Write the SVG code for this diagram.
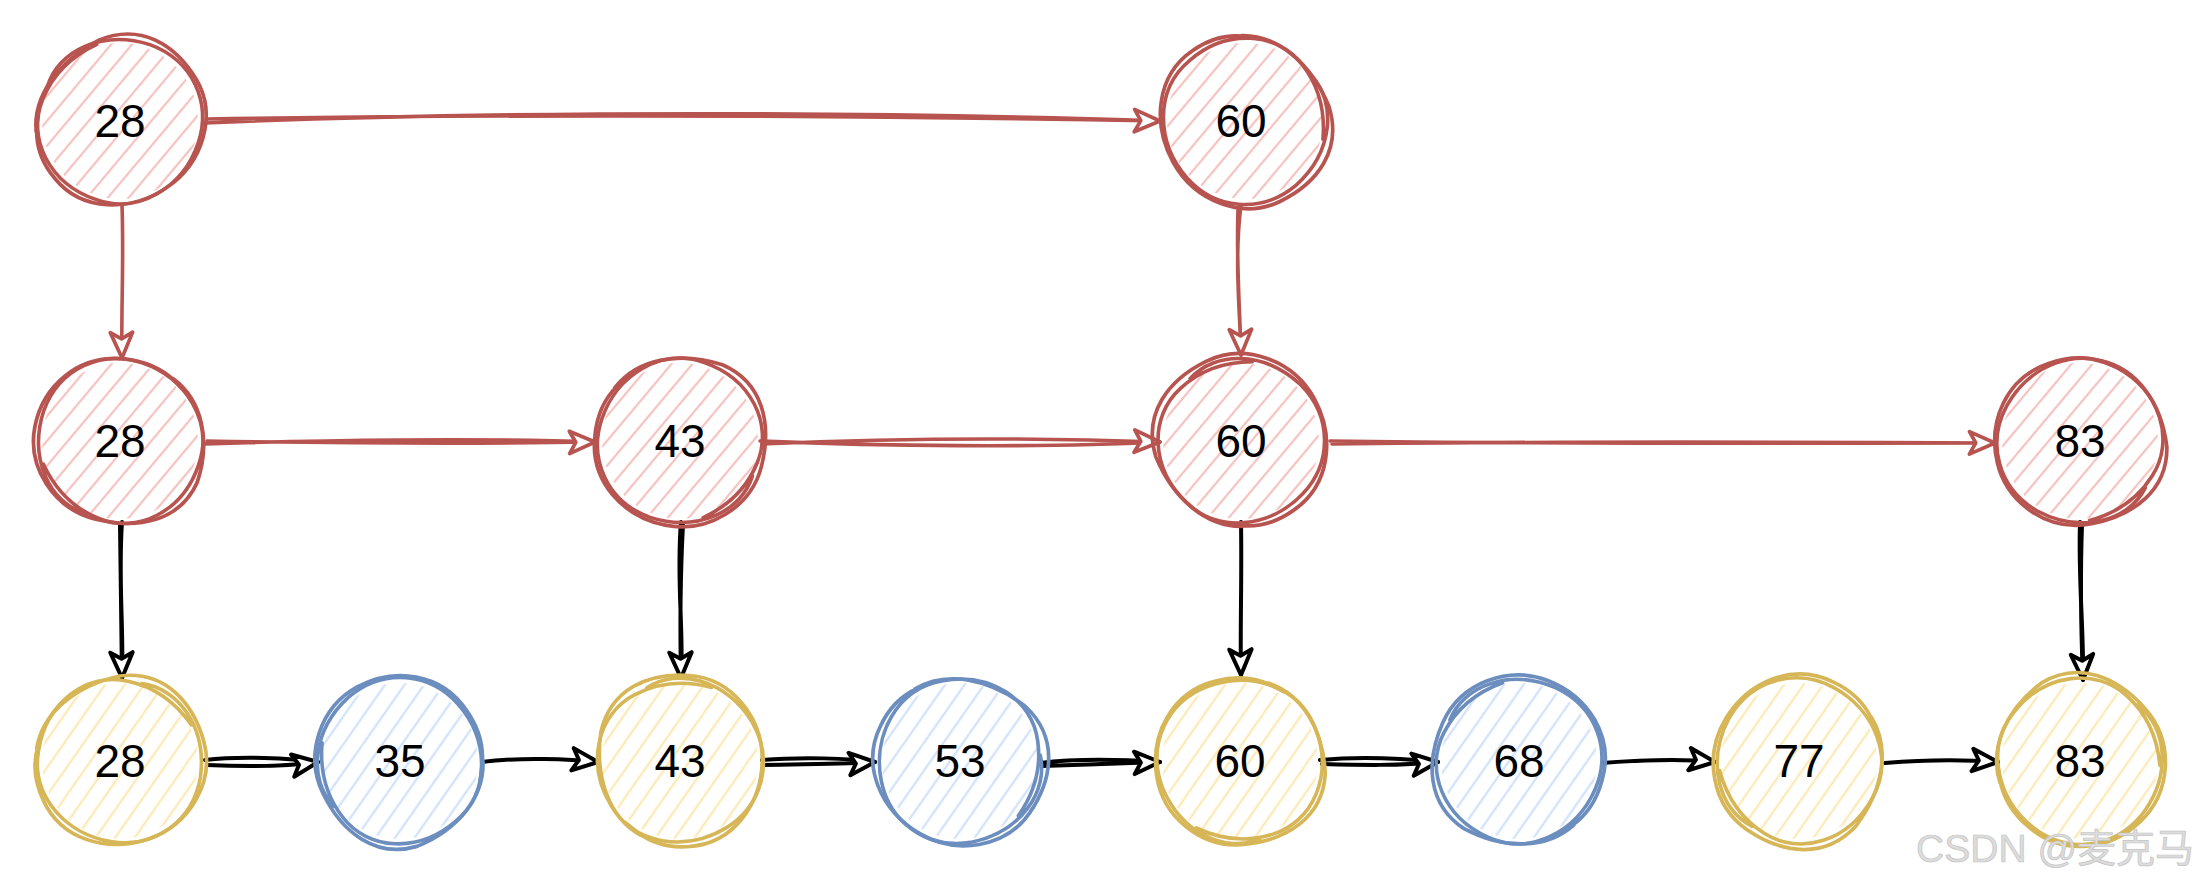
<svg xmlns="http://www.w3.org/2000/svg" xmlns:xlink="http://www.w3.org/1999/xlink" width="2204" height="884" viewBox="0 0 2204 884">
<style>
.lbl{font-family:"Liberation Sans",Arial,sans-serif;font-size:46px;fill:#000;text-anchor:middle}
.red .o{fill:none;stroke:#b85450;stroke-width:3.6;stroke-linecap:round}
.red .f{fill:url(#hR);stroke:none}
.yel .o{fill:none;stroke:#d6b656;stroke-width:3.6;stroke-linecap:round}
.yel .f{fill:url(#hY);stroke:none}
.blu .o{fill:none;stroke:#6c8ebf;stroke-width:3.6;stroke-linecap:round}
.blu .f{fill:url(#hB);stroke:none}
.cr{fill:none;stroke:#b85450;stroke-width:3.6;stroke-linecap:round;marker-end:url(#aR)}
.ck{fill:none;stroke:#000;stroke-width:4;stroke-linecap:round;marker-end:url(#aK)}
.wm{font-family:"Liberation Sans","Noto Sans CJK SC",sans-serif;font-size:39px;fill:#dcdcdc;stroke:#c4c4c4;stroke-width:0.7;text-anchor:end}
</style>
<defs>
<pattern id="hR" patternUnits="userSpaceOnUse" width="16" height="16" patternTransform="rotate(-50)"><line x1="0" y1="8" x2="16" y2="8" stroke="#f5c2bf" stroke-width="2.2"/></pattern>
<pattern id="hY" patternUnits="userSpaceOnUse" width="16" height="16" patternTransform="rotate(-55)"><line x1="0" y1="8" x2="16" y2="8" stroke="#fcebb8" stroke-width="2.4"/></pattern>
<pattern id="hB" patternUnits="userSpaceOnUse" width="16" height="16" patternTransform="rotate(-55)"><line x1="0" y1="8" x2="16" y2="8" stroke="#d2e3fa" stroke-width="2.4"/></pattern>
<path id="s1" d="M-80,-8 C-82,-45 -48,-80 2,-82 C48,-82 80,-48 81,-6 C82,40 50,82 4,82 C-45,83 -82,48 -80,6 C-79,-22 -66,-46 -48,-64"/>
<path id="s2" d="M-72,-40 C-55,-72 -15,-86 28,-80 C70,-70 86,-32 83,10 C80,52 42,84 0,83 C-42,82 -80,54 -83,10 C-85,-12 -80,-28 -70,-42 L-60,-55"/>
<circle id="fc" r="78"/>
<marker id="aR" viewBox="0 0 20 20" refX="18" refY="10" markerUnits="userSpaceOnUse" markerWidth="32" markerHeight="32" orient="auto"><path d="M2,3 L18,10 L2,17 L6,10 Z" fill="#fff" stroke="#b85450" stroke-width="2.3" stroke-linejoin="round"/></marker>
<marker id="aK" viewBox="0 0 20 20" refX="18" refY="10" markerUnits="userSpaceOnUse" markerWidth="32" markerHeight="32" orient="auto"><path d="M2,3 L18,10 L2,17 L6,10 Z" fill="#fff" stroke="#000" stroke-width="2.5" stroke-linejoin="round"/></marker>
</defs>

<g id="connectors">
<path class="cr" d="M205,123 C500,110 900,112 1160,121 M207,119 C520,114 880,116 1160,121"/>
<path class="cr" d="M122,205 C124,260 121,310 122,358"/>
<path class="cr" d="M1241,205 C1234,260 1240,310 1241,355 M1238,210 C1236,260 1240,310 1241,355"/>
<path class="cr" d="M205,444 C320,440 480,438 595,442 M207,441 C330,443 470,444 595,442"/>
<path class="cr" d="M760,441 C880,446 1040,448 1160,442 M762,444 C900,438 1020,437 1160,442"/>
<path class="cr" d="M1330,441 C1550,444 1780,443 1995,443 M1332,444 C1560,441 1800,442 1995,443"/>
<path class="ck" d="M122,522 C118,580 124,630 122,678 M120,525 C121,580 121,630 122,678"/>
<path class="ck" d="M681,522 C676,580 684,630 681,678 M683,525 C680,580 680,630 681,678"/>
<path class="ck" d="M1241,522 C1242,580 1240,630 1241,675"/>
<path class="ck" d="M2080,522 C2078,580 2084,630 2083,680 M2082,525 C2080,580 2081,630 2083,680"/>
<path class="ck" d="M205,760 C240,756 290,758 318,762 M207,765 C250,767 290,766 318,762"/>
<path class="ck" d="M482,762 C520,757 570,759 598,762"/>
<path class="ck" d="M762,760 C800,757 850,758 875,762 M764,765 C800,764 850,764 875,762"/>
<path class="ck" d="M1040,763 C1080,758 1130,760 1160,762 M1042,766 C1080,765 1130,763 1160,762"/>
<path class="ck" d="M1320,760 C1360,756 1400,758 1438,762 M1322,764 C1360,765 1400,766 1438,762"/>
<path class="ck" d="M1602,763 C1640,760 1680,758 1715,762"/>
<path class="ck" d="M1885,763 C1920,760 1960,759 1998,762"/>
</g>

<g id="n28a" class="red" transform="translate(120,121)">
<use href="#fc" class="f"/><use href="#s1" class="o" transform="rotate(20)"/><use href="#s2" class="o" transform="rotate(-35) scale(1.04,0.98)"/>
<text class="lbl" y="16">28</text></g>
<g id="n60a" class="red" transform="translate(1245,121)">
<use href="#fc" class="f"/><use href="#s1" class="o" transform="rotate(140)"/><use href="#s2" class="o" transform="rotate(60) scale(1.05,1)"/>
<text class="lbl" x="-4" y="16">60</text></g>

<g id="n28b" class="red" transform="translate(120,441)">
<use href="#fc" class="f"/><use href="#s1" class="o" transform="rotate(-70)"/><use href="#s2" class="o" transform="rotate(100) scale(0.98,1.04)"/>
<text class="lbl" y="16">28</text></g>
<g id="n43b" class="red" transform="translate(680,441)">
<use href="#fc" class="f"/><use href="#s1" class="o" transform="rotate(200)"/><use href="#s2" class="o" transform="rotate(10) scale(1.02,1.03)"/>
<text class="lbl" y="16">43</text></g>
<g id="n60b" class="red" transform="translate(1241,441)">
<use href="#fc" class="f"/><use href="#s1" class="o" transform="rotate(45)"/><use href="#s2" class="o" transform="rotate(-120) scale(1.04,1.02)"/>
<text class="lbl" y="16">60</text></g>
<g id="n83b" class="red" transform="translate(2080,441)">
<use href="#fc" class="f"/><use href="#s1" class="o" transform="rotate(-150)"/><use href="#s2" class="o" transform="rotate(75) scale(1,1.03)"/>
<text class="lbl" y="16">83</text></g>

<g id="n28c" class="yel" transform="translate(120,761)">
<use href="#fc" class="f"/><use href="#s1" class="o" transform="rotate(100)"/><use href="#s2" class="o" transform="rotate(-20) scale(1.03,1)"/>
<text class="lbl" y="16">28</text></g>
<g id="n35c" class="blu" transform="translate(400,761)">
<use href="#fc" class="f"/><use href="#s1" class="o" transform="rotate(-40)"/><use href="#s2" class="o" transform="rotate(150) scale(1,1.03)"/>
<text class="lbl" y="16">35</text></g>
<g id="n43c" class="yel" transform="translate(680,761)">
<use href="#fc" class="f"/><use href="#s1" class="o" transform="rotate(60)"/><use href="#s2" class="o" transform="rotate(-90) scale(1.03,0.99)"/>
<text class="lbl" y="16">43</text></g>
<g id="n53c" class="blu" transform="translate(960,761)">
<use href="#fc" class="f"/><use href="#s1" class="o" transform="rotate(170)"/><use href="#s2" class="o" transform="rotate(30) scale(1.04,1)"/>
<text class="lbl" y="16">53</text></g>
<g id="n60c" class="yel" transform="translate(1240,761)">
<use href="#fc" class="f"/><use href="#s1" class="o" transform="rotate(-110)"/><use href="#s2" class="o" transform="rotate(80) scale(1,1.02)"/>
<text class="lbl" y="16">60</text></g>
<g id="n68c" class="blu" transform="translate(1519,761)">
<use href="#fc" class="f"/><use href="#s1" class="o" transform="rotate(25)"/><use href="#s2" class="o" transform="rotate(-160) scale(1.02,1.03)"/>
<text class="lbl" y="16">68</text></g>
<g id="n77c" class="yel" transform="translate(1799,761)">
<use href="#fc" class="f"/><use href="#s1" class="o" transform="rotate(-60)"/><use href="#s2" class="o" transform="rotate(120) scale(1.03,1.02)"/>
<text class="lbl" y="16">77</text></g>
<g id="n83c" class="yel" transform="translate(2080,761)">
<use href="#fc" class="f"/><use href="#s1" class="o" transform="rotate(130)"/><use href="#s2" class="o" transform="rotate(-45) scale(1,1.03)"/>
<text class="lbl" y="16">83</text></g>

<text class="wm" x="2194" y="862">CSDN @麦克马</text>
</svg>
